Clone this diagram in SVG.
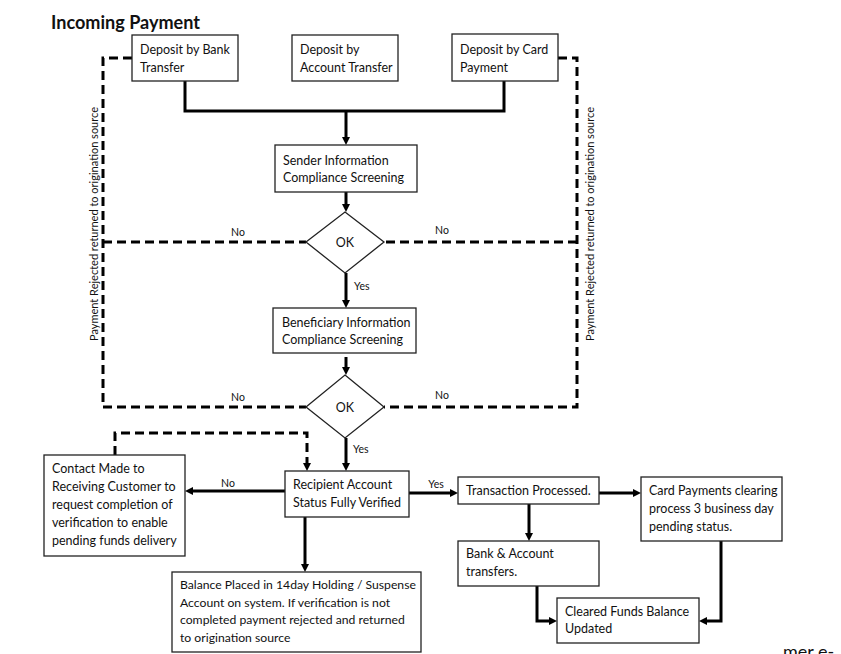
<svg xmlns="http://www.w3.org/2000/svg" width="841" height="654" viewBox="0 0 841 654">
<defs>
<style>
.box{fill:#fff;stroke:#222;stroke-width:1.3}
.t{font-family:"Lato","Liberation Sans",sans-serif;font-size:12.5px;fill:#111}
.b{font-family:"Lato","Liberation Sans",sans-serif;font-size:12.2px;fill:#111}
.s{font-family:"Lato","Liberation Sans",sans-serif;font-size:10.5px;fill:#111}
.r{font-family:"Lato","Liberation Sans",sans-serif;font-size:11px;fill:#111}
.c{fill:none;stroke:#000;stroke-width:3}
.d{fill:none;stroke:#000;stroke-width:3;stroke-dasharray:9 5}
</style>
<marker id="ah" viewBox="0 0 8 8" markerWidth="8" markerHeight="8" refX="2" refY="4" orient="auto" markerUnits="userSpaceOnUse">
<path d="M0,0 L8,4 L0,8 z" fill="#000"/>
</marker>
</defs>
<rect width="841" height="654" fill="#fff"/>
<text x="51" y="29" font-family="Lato, Liberation Sans, sans-serif" font-size="19" font-weight="bold" fill="#111" textLength="149" lengthAdjust="spacingAndGlyphs">Incoming Payment</text>

<g id="connectors">
<path class="d" d="M132 58 H103 V407 H306"/>
<path class="d" d="M103 242 H306"/>
<path class="d" d="M558 58 H577 V407 H384"/>
<path class="d" d="M577 242 H384"/>
<path class="d" d="M115 455 V433 H307 V465" marker-end="url(#ah)"/>
<path class="c" d="M185 81 V111 H504 V81"/>
<path class="c" d="M346 111 V139" marker-end="url(#ah)"/>
<path class="c" d="M346 192 V206" marker-end="url(#ah)"/>
<path class="c" d="M346 273 V302" marker-end="url(#ah)"/>
<path class="c" d="M346 357 V369" marker-end="url(#ah)"/>
<path class="c" d="M346 438 V465" marker-end="url(#ah)"/>
<path class="c" d="M285 491 H191" marker-end="url(#ah)"/>
<path class="c" d="M305 517 V566" marker-end="url(#ah)"/>
<path class="c" d="M409 493 H452" marker-end="url(#ah)"/>
<path class="c" d="M599 493 H635" marker-end="url(#ah)"/>
<path class="c" d="M529 504 V535" marker-end="url(#ah)"/>
<path class="c" d="M537 586 V621 H551" marker-end="url(#ah)"/>
<path class="c" d="M721 541 V621 H705" marker-end="url(#ah)"/>
<text class="s" x="238" y="236" text-anchor="middle">No</text>
<text class="s" x="442" y="234" text-anchor="middle">No</text>
<text class="s" x="354" y="290">Yes</text>
<text class="s" x="238" y="401" text-anchor="middle">No</text>
<text class="s" x="442" y="399" text-anchor="middle">No</text>
<text class="s" x="353" y="453">Yes</text>
<text class="s" x="228" y="487" text-anchor="middle">No</text>
<text class="s" x="436" y="488" text-anchor="middle">Yes</text>
<text class="r" transform="translate(98,224) rotate(-90)" text-anchor="middle">Payment Rejected  returned to origination source</text>
<text class="r" transform="translate(594,224) rotate(-90)" text-anchor="middle">Payment Rejected  returned to origination source</text>
</g>

<g id="bank">
<rect class="box" x="132" y="35" width="106" height="46"/>
<text class="t" x="140" y="54">Deposit by Bank</text>
<text class="t" x="140" y="72">Transfer</text>
</g>
<g id="account">
<rect class="box" x="292" y="35" width="106" height="46"/>
<text class="t" x="300" y="54">Deposit by</text>
<text class="t" x="300" y="72">Account Transfer</text>
</g>
<g id="card">
<rect class="box" x="452" y="34" width="106" height="47"/>
<text class="t" x="460" y="54">Deposit by Card</text>
<text class="t" x="460" y="72">Payment</text>
</g>
<g id="sender">
<rect class="box" x="275" y="145" width="142" height="47"/>
<text class="t" x="283" y="165">Sender Information</text>
<text class="t" x="283" y="182">Compliance Screening</text>
</g>
<g id="ok1">
<polygon class="box" points="345,212 384,242 345,273 306,242"/>
<text class="t" x="345" y="247" text-anchor="middle">OK</text>
</g>
<g id="beneficiary">
<rect class="box" x="273" y="308" width="143" height="45"/>
<text class="t" x="282" y="327">Beneficiary Information</text>
<text class="t" x="282" y="344">Compliance Screening</text>
</g>
<g id="ok2">
<polygon class="box" points="345,375 384,407 345,438 306,407"/>
<text class="t" x="345" y="412" text-anchor="middle">OK</text>
</g>
<g id="recipient">
<rect class="box" x="285" y="471" width="124" height="46"/>
<text class="t" x="293" y="489">Recipient Account</text>
<text class="t" x="293" y="507">Status Fully Verified</text>
</g>
<g id="contact">
<rect class="box" x="44" y="455" width="141" height="101"/>
<text class="t" x="52" y="473">Contact Made to</text>
<text class="t" x="52" y="491">Receiving Customer to</text>
<text class="t" x="52" y="509">request completion of</text>
<text class="t" x="52" y="527">verification to enable</text>
<text class="t" x="52" y="545">pending funds delivery</text>
</g>
<g id="balance">
<rect class="box" x="172" y="572" width="249" height="80"/>
<text class="b" x="180" y="589">Balance Placed in 14day  Holding / Suspense</text>
<text class="b" x="180" y="607">Account on system. If verification is not</text>
<text class="b" x="180" y="624">completed payment rejected and returned</text>
<text class="b" x="180" y="642">to origination source</text>
</g>
<g id="transaction">
<rect class="box" x="458" y="477" width="141" height="27"/>
<text class="t" x="466" y="495">Transaction Processed.</text>
</g>
<g id="cardclearing">
<rect class="box" x="641" y="477" width="141" height="64"/>
<text class="t" x="649" y="495">Card Payments clearing</text>
<text class="t" x="649" y="513">process 3 business day</text>
<text class="t" x="649" y="531">pending status.</text>
</g>
<g id="banktransfers">
<rect class="box" x="458" y="541" width="141" height="45"/>
<text class="t" x="466" y="558">Bank &amp; Account</text>
<text class="t" x="466" y="576">transfers.</text>
</g>
<g id="cleared">
<rect class="box" x="557" y="598" width="142" height="45"/>
<text class="t" x="565" y="616">Cleared Funds Balance</text>
<text class="t" x="565" y="633">Updated</text>
</g>
<text x="783" y="658" font-family="Lato, Liberation Sans, sans-serif" font-size="18" fill="#111">mer e-</text>
</svg>
